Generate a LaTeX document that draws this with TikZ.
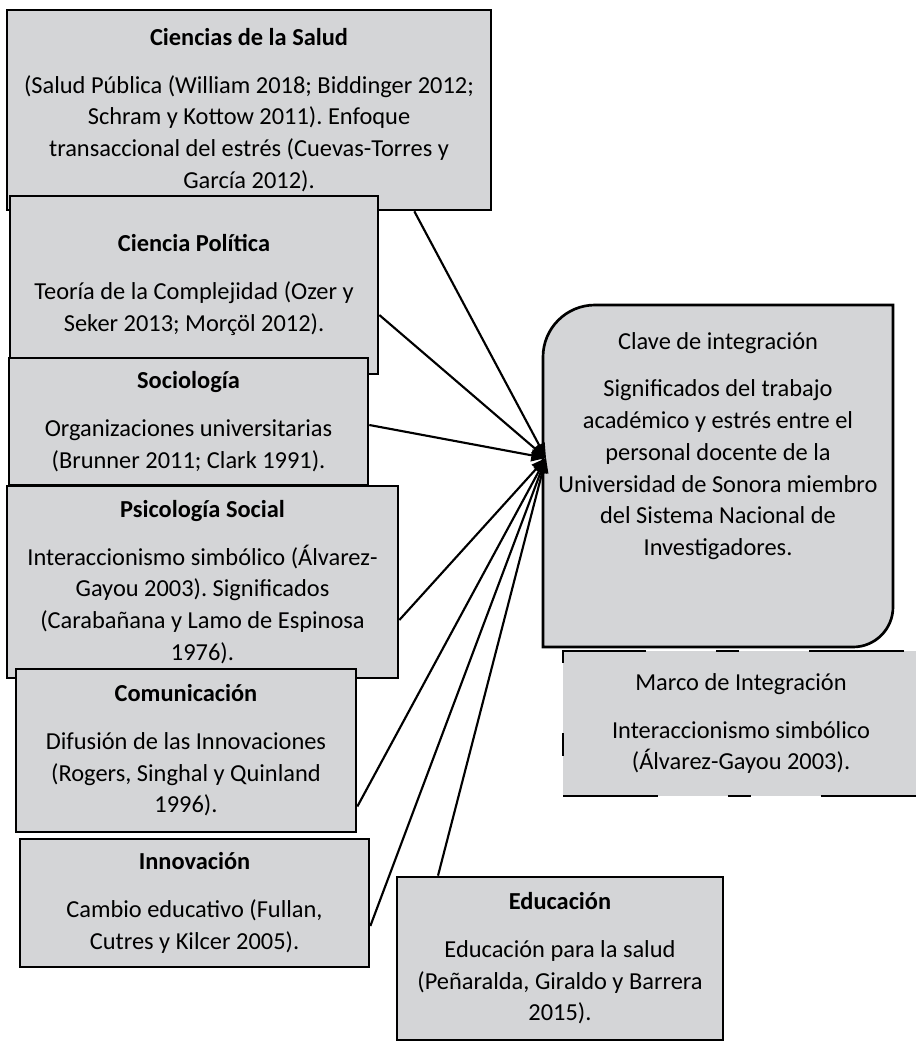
\documentclass[tikz,border=0pt]{standalone}
\usepackage{fontspec}
\setmainfont{Carlito}
\usetikzlibrary{arrows.meta,calc}
\definecolor{gris}{HTML}{D4D5D7}
\definecolor{ink}{HTML}{000000}
\frenchspacing
\tikzset{
  >={Triangle[length=11pt,width=9pt]},
  every node/.style={font=\fontsize{18.3}{23.8}\selectfont,text=ink},
  tam/.style 2 args={minimum width=#1*0.75pt,minimum height=#2*0.75pt},
  caja/.style={draw=ink,line width=2pt,fill=gris,align=center,inner sep=0pt},
  clavetxt/.style={caja,draw=none,fill=none},
  marcobox/.style={caja,dash pattern=on 71.25pt off 52.5pt on 17.25pt off 52.5pt},
  flecha/.style={->,line width=1.6pt,draw=ink},
}
\newcommand{\titulo}[1]{\textbf{#1}\\[12pt]}

\begin{document}
\begin{tikzpicture}[x=0.75pt,y=0.75pt]
\useasboundingbox (0,0) rectangle (915,-1045);

% disciplinas (de arriba abajo, cada una encima de la anterior)
\node[caja,tam={484}{200}] (salud) at (249,-110)
{\titulo{Ciencias de la Salud}(Salud Pública (William 2018; Biddinger 2012;\\Schram y Kottow 2011). Enfoque\\transaccional del estrés (Cuevas-Torres y\\García 2012).};
\node[caja,tam={368}{178}] (politica) at (194,-285)
{\titulo{Ciencia Política}Teoría de la Complejidad (Ozer y\\Seker 2013; Morçöl 2012).};
\node[caja,tam={359}{127}] (socio) at (188.5,-421.5)
{\titulo{Sociología}Organizaciones universitarias\\(Brunner 2011; Clark 1991).};
\node[caja,tam={391}{192}] (psico) at (202.5,-582)
{\titulo{Psicología Social}Interaccionismo simbólico (Álvarez-\\Gayou 2003). Significados\\(Carabañana y Lamo de Espinosa\\1976).};
\node[caja,tam={340}{163}] (comu) at (186,-750.5)
{\titulo{Comunicación}Difusión de las Innovaciones\\(Rogers, Singhal y Quinland\\1996).};
\node[caja,tam={349}{128}] (innov) at (194.5,-903)
{\titulo{Innovación}Cambio educativo (Fullan,\\Cutres y Kilcer 2005).};
\node[caja,tam={326}{163}] (educ) at (560,-958.5)
{\titulo{Educación}Educación para la salud\\(Peñaralda, Giraldo y Barrera\\2015).};

% marco de integracion
\node[marcobox,tam={356}{145}] (marco) at (741,-723.5)
{Marco de Integración\\[12pt]Interaccionismo simbólico\\(Álvarez-Gayou 2003).};

% clave de integracion
\draw[caja] (543,-647) -- (543,-357) arc[start angle=180,end angle=90,radius=39pt]
  -- (893,-305) -- (893,-607) arc[start angle=0,end angle=-90,radius=30pt] -- cycle;
\node[clavetxt] (clave) at (718,-446)
{Clave de integración\\[12pt]Significados del trabajo\\académico y estrés entre el\\personal docente de la\\Universidad de Sonora miembro\\del Sistema Nacional de\\Investigadores.};

% flechas
\coordinate (punta) at (546,-458);
\draw[flecha] ([shift={(-78,0)}]salud.south east) -- (punta);
\draw[flecha] ([shift={(0,-30)}]politica.east) -- (punta);
\draw[flecha] ([shift={(0,-3.5)}]socio.east) -- (punta);
\draw[flecha] ([shift={(0,-38)}]psico.east) -- (punta);
\draw[flecha] ([shift={(0,-56)}]comu.east) -- (punta);
\draw[flecha] ([shift={(0,-23)}]innov.east) -- (punta);
\draw[flecha] ([shift={(-122,0)}]educ.north) -- (punta);

\end{tikzpicture}
\end{document}
